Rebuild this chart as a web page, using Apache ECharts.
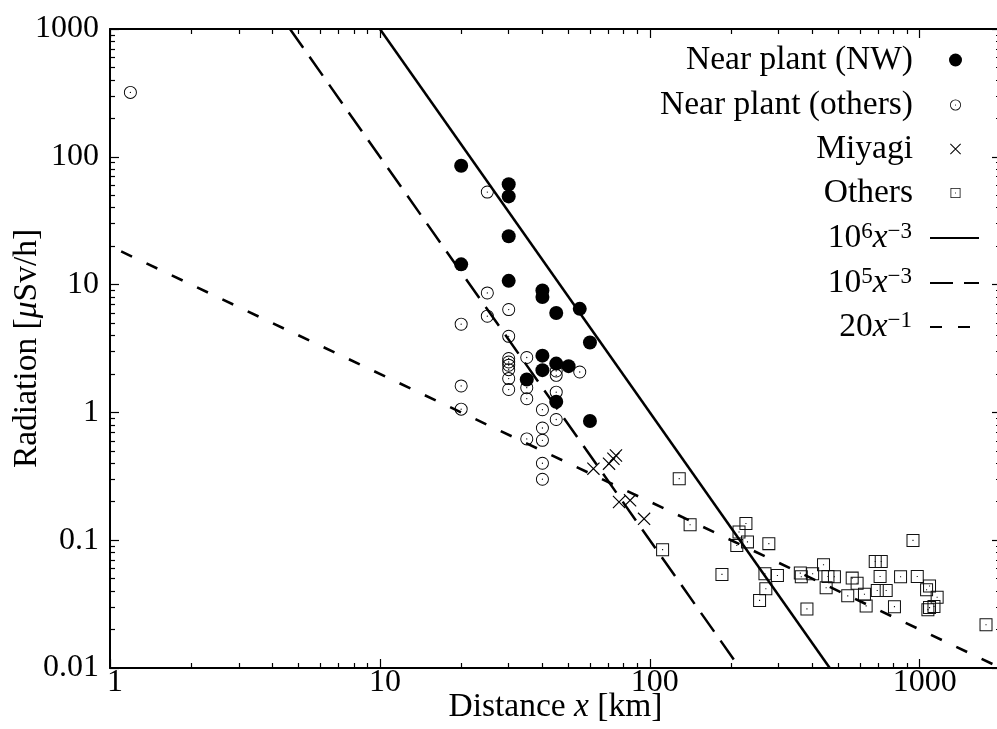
<!DOCTYPE html>
<html><head><meta charset="utf-8">
<script src="https://cdn.jsdelivr.net/npm/echarts@6/dist/echarts.min.js"></script>
<style>html,body{margin:0;padding:0;background:#fff}#c{width:997px;height:729px}</style>
</head><body><div id="c"></div>
<script>
// ---------------- data ----------------
const nearNW = [[20,85],[30,61],[30,49],[30,23.9],[20,14.4],[30,10.7],[40,9.0],[40,8.0],[45,6.0],[55,6.46],
  [60,3.52],[40,2.78],[45,2.41],[50,2.30],[40,2.14],[35,1.81],[45,1.21],[60,0.857]];
const nearOthers = [[1.19,319],[25,53],[25,8.6],[30,6.38],[25,5.66],[20,4.9],[30,3.94],[35,2.69],[30,2.64],
  [30,2.48],[30,2.34],[30,2.16],[30,1.84],[30,1.51],[20,1.61],[20,1.06],[35,1.56],[35,1.28],[35,0.62],
  [45,2.11],[45,1.95],[55,2.07],[45,1.44],[40,1.05],[45,0.88],[40,0.755],[40,0.605],[40,0.40],[40,0.30]];
const miyagi = [[61.8,0.363],[70.6,0.397],[73.3,0.434],[74.9,0.46],[76.9,0.199],[84.5,0.205],[95.2,0.147]];
const others = [[128.5,0.303],[141,0.132],[111.5,0.0843],[227,0.135],[214,0.116],[230,0.097],[210,0.091],
  [276,0.094],[185,0.054],[267,0.0546],[297,0.053],[269,0.0417],[255,0.0338],[382,0.029],[361,0.0553],
  [364,0.0517],[401,0.0546],[440,0.0643],[457,0.052],[483,0.0517],[450,0.0425],[562,0.0505],[586,0.046],
  [541,0.0367],[624,0.0378],[633,0.0306],[684,0.0682],[720,0.0682],[713,0.052],[696,0.0404],[751,0.0404],
  [806,0.0302],[849,0.0517],[944,0.0996],[979,0.052],[1087,0.0438],[1060,0.041],[1160,0.0358],
  [1087,0.0297],[1129,0.0303],[1072,0.0286],[1760,0.0218]];
// model lines (endpoints)
const line1e6 = [[10,1000],[464.2,0.01]];
const line1e5 = [[4.642,1000],[215.4,0.01]];
const line20 = [[1.1,18.18],[2000,0.01]];
// axis ticks
const xRange = [1, 2000];
const yRange = [0.01, 1000];
const xMinorTicks = [2,3,4,5,6,7,8,9,20,30,40,50,60,70,80,90,200,300,400,500,600,700,800,900];
const yMinorTicks = [0.02,0.03,0.04,0.05,0.06,0.07,0.08,0.09,0.2,0.3,0.4,0.5,0.6,0.7,0.8,0.9,
  2,3,4,5,6,7,8,9,20,30,40,50,60,70,80,90,200,300,400,500,600,700,800,900];
const seriesNames = ['Near plant (NW)','Near plant (others)','Miyagi','Others','10^6x^-3','10^5x^-3','20x^-1'];
const legendLabels = ['Near plant (NW)','Near plant (others)','Miyagi','Others',
  '{t|10}{s|6}{i|x}{s|−3}','{t|10}{s|5}{i|x}{s|−3}','{t|20}{i|x}{s|−1}'];

// ---------------- style ----------------
const FONT = 'Liberation Serif';
const LFS = 33.5;
const RING = 'path://M7,0A7,7,0,1,0,-7,0A7,7,0,1,0,7,0Z M6.0,0A6.0,6.0,0,1,1,-6.0,0A6.0,6.0,0,1,1,6.0,0Z M0.7,0A0.7,0.7,0,1,0,-0.7,0A0.7,0.7,0,1,0,0.7,0Z';
const SQUARE = 'path://M-7,-7L7,-7L7,7L-7,7Z M-5.9,-5.9L-5.9,5.9L5.9,5.9L5.9,-5.9Z M-0.6,-0.6L0.6,-0.6L0.6,0.6L-0.6,0.6Z';
const CROSS = 'path://M-5.6,-6.4L6.4,5.6L5.6,6.4L-6.4,-5.6Z M5.6,-6.4L6.4,-5.6L-5.6,6.4L-6.4,5.6Z';

const fmt = v => String(+Number(v).toPrecision(6));
const RICH = {
  t:{fontFamily:FONT,fontSize:LFS,lineHeight:36,color:'#000'},
  i:{fontFamily:FONT,fontSize:LFS,lineHeight:36,fontStyle:'italic',color:'#000'},
  s:{fontFamily:FONT,fontSize:23,lineHeight:20,verticalAlign:'top',color:'#000'},
  g:{width:12}
};

function axisBase(kind, pos, minor, main) {
  const isX = kind === 'x';
  const a = {
    type:'log', logBase:10, min:(isX?xRange:yRange)[0], max:(isX?xRange:yRange)[1],
    position:pos, gridIndex:0,
    axisLine:{show:!minor, onZero:false, lineStyle:{color:'#000', width:2}},
    axisTick:{show:true, inside:true, length:minor?5:9, lineStyle:{color:'#000', width:1.2}},
    axisLabel:{show:false},
    splitLine:{show:false}, minorTick:{show:false}, minorSplitLine:{show:false},
    axisPointer:{show:false}, silent:true
  };
  if (minor) a.axisTick.customValues = isX ? xMinorTicks : yMinorTicks;
  if (main) {
    a.axisLabel = isX
      ? {show:true, formatter:fmt, fontFamily:FONT, fontSize:32, color:'#000', margin:-1,
         padding:[0,0,0,10], showMaxLabel:false}
      : {show:true, formatter:fmt, fontFamily:FONT, fontSize:32, color:'#000', margin:11};
    a.nameLocation = 'middle';
    a.nameMoveOverlap = false;
    a.nameTextStyle = {fontFamily:FONT, fontSize:LFS, color:'#000',
      rich:{i:{fontFamily:FONT, fontSize:LFS, fontStyle:'italic', color:'#000'}}};
    if (isX) { a.name = 'Distance {i|x} [km]'; a.nameGap = 22; }
    else { a.name = 'Radiation [{i|μ}Sv/h]'; a.nameGap = 66; a.nameRotate = 90; }
  }
  return a;
}

// legend rows: centre y, icon size (0 = line icon)
const legendRowY = [60,105,149,193,238,283,327];
const legendIconSize = [13,11,11,10,0,0,0];
const iconCenterX = 955.5, lineIconLeft = 931, lineIconW = 49, textRight = 913;

const legends = seriesNames.map((n, k) => {
  const sz = legendIconSize[k];
  const isLine = sz === 0;
  const w = isLine ? lineIconW : sz;
  const iconLeft = isLine ? lineIconLeft : iconCenterX - sz/2;
  const gap = Math.max(0, iconLeft - 5 - textRight);
  const lab = legendLabels[k].indexOf('{') === 0 ? legendLabels[k] : '{t|' + legendLabels[k] + '}';
  const lg = {
    data:[n], orient:'vertical', align:'right', padding:0, selectedMode:false,
    right: 997 - (iconLeft + w), top: legendRowY[k] - 18,
    itemWidth: w, itemHeight: isLine ? 14 : sz, itemGap: 0,
    formatter: () => lab + '{g| }',
    textStyle:{fontFamily:FONT, fontSize:LFS, lineHeight:36, color:'#000',
      rich: Object.assign({}, RICH, {g:{width:gap}})}
  };
  if (isLine) lg.itemStyle = {opacity:0, color:'transparent', borderWidth:0};
  return lg;
});

const chart = echarts.init(document.getElementById('c'), null, {renderer:'canvas'});
chart.setOption({
  animation:false,
  backgroundColor:'#fff',
  grid:{left:110, top:29, width:891, height:639, containLabel:false, outerBoundsMode:'none'},
  xAxis:[axisBase('x','bottom',false,true), axisBase('x','bottom',true,false),
         axisBase('x','top',false,false), axisBase('x','top',true,false)],
  yAxis:[axisBase('y','left',false,true), axisBase('y','left',true,false),
         axisBase('y','right',false,false), axisBase('y','right',true,false)],
  legend: legends,
  series:[
    {name:seriesNames[0], type:'scatter', data:nearNW, symbol:'circle', symbolSize:14,
     itemStyle:{color:'#000', opacity:1}, xAxisIndex:0, yAxisIndex:0},
    {name:seriesNames[1], type:'scatter', data:nearOthers, symbol:RING, symbolSize:13,
     itemStyle:{color:'#000', opacity:1}, xAxisIndex:0, yAxisIndex:0},
    {name:seriesNames[2], type:'scatter', data:miyagi, symbol:CROSS, symbolSize:13,
     itemStyle:{color:'#000', opacity:1}, xAxisIndex:0, yAxisIndex:0},
    {name:seriesNames[3], type:'scatter', data:others, symbol:SQUARE, symbolSize:13,
     itemStyle:{color:'#111', opacity:1}, xAxisIndex:0, yAxisIndex:0},
    {name:seriesNames[4], type:'line', data:line1e6, symbol:'none', showSymbol:false, clip:true,
     lineStyle:{color:'#000', width:2.5, type:'solid'}, itemStyle:{color:'#000'}, xAxisIndex:0, yAxisIndex:0},
    {name:seriesNames[5], type:'line', data:line1e5, symbol:'none', showSymbol:false, clip:true,
     lineStyle:{color:'#000', width:2.5, type:[23,11]}, itemStyle:{color:'#000'}, xAxisIndex:0, yAxisIndex:0},
    {name:seriesNames[6], type:'line', data:line20, symbol:'none', showSymbol:false, clip:true,
     lineStyle:{color:'#000', width:2.6, type:[12,16]}, itemStyle:{color:'#000'}, xAxisIndex:0, yAxisIndex:0}
  ]
});
</script></body></html>
